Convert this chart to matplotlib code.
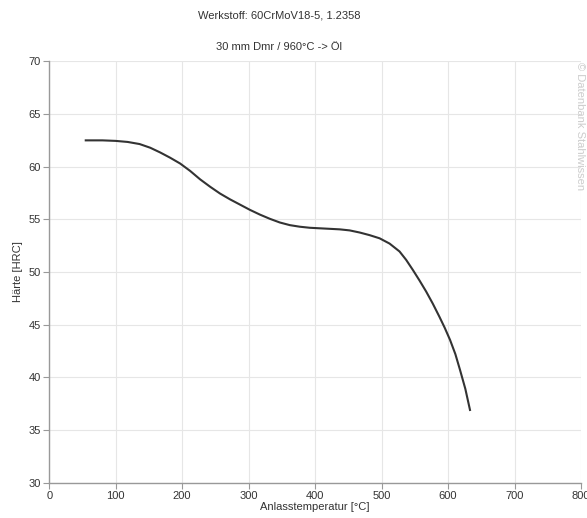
import matplotlib.pyplot as plt

plt.rcParams['font.family'] = ['Liberation Sans', 'DejaVu Sans']

# tempering curve
temp = [55, 80, 100, 118, 136, 152, 167, 182, 197, 212, 227, 242, 257, 272, 287, 302, 317,
        332, 347, 362, 377, 392, 407, 422, 437, 452, 467, 482, 497, 512, 527, 537, 547,
        557, 567, 577, 587, 595, 603, 611, 618, 626, 633]
hrc = [62.5, 62.5, 62.45, 62.35, 62.15, 61.8, 61.35, 60.85, 60.3, 59.6, 58.8, 58.1, 57.45,
       56.9, 56.4, 55.9, 55.45, 55.05, 54.7, 54.45, 54.3, 54.2, 54.15, 54.1, 54.05, 53.95,
       53.75, 53.5, 53.2, 52.7, 51.95, 51.15, 50.2, 49.2, 48.15, 47.0, 45.75, 44.7, 43.55,
       42.2, 40.7, 38.9, 36.9]

xticks = [0, 100, 200, 300, 400, 500, 600, 700, 800]
yticks = [30, 35, 40, 45, 50, 55, 60, 65, 70]

fig = plt.figure(figsize=(5.87, 5.18), dpi=100)
ax = fig.add_axes([0.0838, 0.0683, 0.906, 0.8132])

ax.plot(temp, hrc, color='#333333', lw=1.5, solid_joinstyle='round')

ax.set_xlim(0, 800)
ax.set_ylim(30, 70)
ax.set_xticks(xticks)
ax.set_yticks(yticks)
ax.grid(True, color='#e6e6e6', lw=0.8)
ax.set_axisbelow(True)

for s in ['top', 'right']:
    ax.spines[s].set_visible(False)
for s in ['left', 'bottom']:
    ax.spines[s].set_color('#999999')
    ax.spines[s].set_linewidth(1.0)
ax.tick_params(colors='#999999', labelcolor='#333333', labelsize=8, length=4, width=0.8, pad=2)

ax.set_xlabel('Anlasstemperatur [°C]', fontsize=8, color='#333333', labelpad=1)
ax.set_ylabel('Härte [HRC]', fontsize=8, color='#333333', labelpad=4)

fig.text(0.475, 0.971, 'Werkstoff: 60CrMoV18-5, 1.2358', ha='center', va='center',
         fontsize=8, color='#333333')
fig.text(0.475, 0.909, '30 mm Dmr / 960°C -> Öl', ha='center', va='center',
         fontsize=8, color='#333333')
fig.text(0.988, 0.88, '© Datenbank Stahlwissen', rotation=270, ha='center', va='top',
         fontsize=8, color='#cccccc')

plt.savefig('out.png', dpi=100)
